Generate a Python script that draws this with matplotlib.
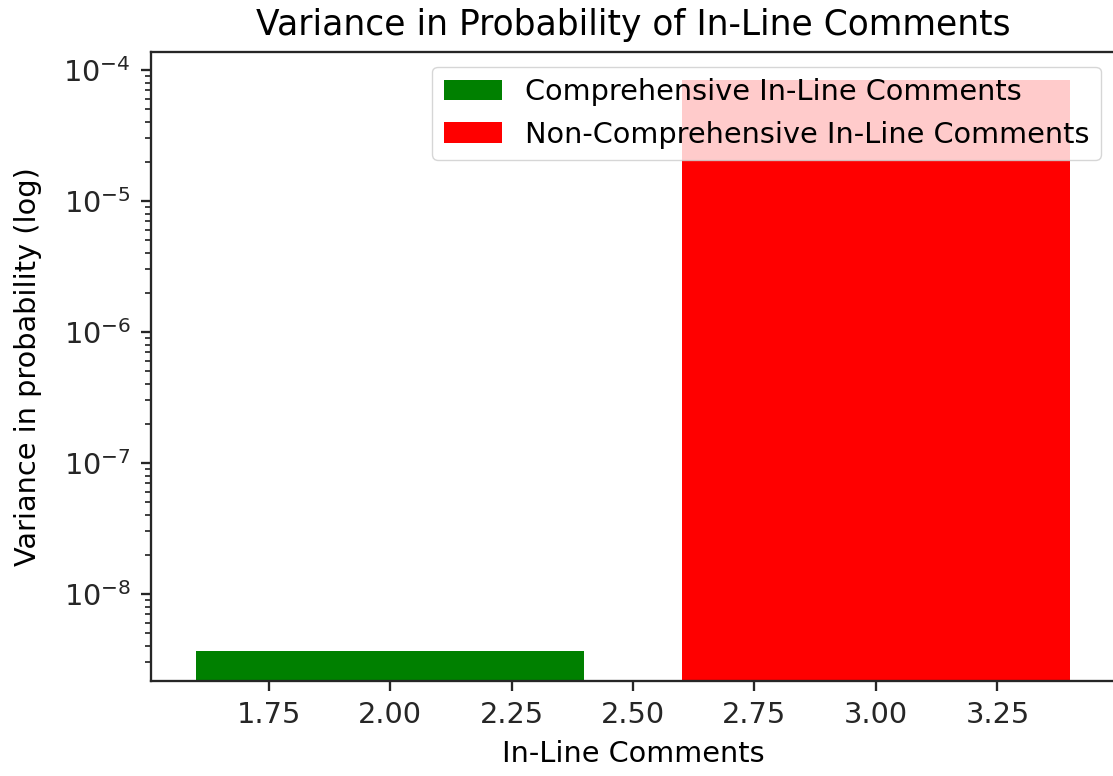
import numpy as np
import matplotlib
matplotlib.use("Agg")
import matplotlib.pyplot as plt

# data
positions = [2, 3]
variances = [3.67e-9, 8.4e-5]
labels = ["Comprehensive In-Line Comments", "Non-Comprehensive In-Line Comments"]
colors = ["green", "red"]

s = 2.88 * 72 / 100  # scale factor from the small original
plt.rcParams.update({
    "font.family": "DejaVu Sans",
    "font.size": 10 * s,
    "axes.linewidth": 0.8 * s,
    "xtick.major.size": 3.5 * s, "ytick.major.size": 3.5 * s,
    "xtick.major.width": 0.8 * s, "ytick.major.width": 0.8 * s,
    "ytick.minor.size": 2 * s, "ytick.minor.width": 0.6 * s,
    "xtick.major.pad": 3.5 * s, "ytick.major.pad": 3.5 * s,
    "axes.edgecolor": "#262626",
    "xtick.color": "#262626", "ytick.color": "#262626",
})

fig = plt.figure(figsize=(11.13, 7.76), dpi=100)
ax = fig.add_axes([151 / 1113, 1 - 680.7 / 776, (1115 - 151) / 1113, (680.7 - 52.3) / 776])

for p, v, lab, c in zip(positions, variances, labels, colors):
    ax.bar(p, v, width=0.8, color=c, label=lab)

ax.set_yscale("log")
ax.set_xlim(1.508, 3.492)
ax.set_ylim(10 ** -8.662, 10 ** -3.865)
ax.set_xticks([1.75, 2.0, 2.25, 2.5, 2.75, 3.0, 3.25])
ax.set_xticklabels(["1.75", "2.00", "2.25", "2.50", "2.75", "3.00", "3.25"])

ax.set_title("Variance in Probability of In-Line Comments", fontsize=12 * s, pad=6 * s)
ax.set_xlabel("In-Line Comments", labelpad=4 * s)
ax.set_ylabel("Variance in probability (log)", labelpad=7.5 * s)
ax.legend(loc="upper right")

fig.savefig("out.png", dpi=100)
